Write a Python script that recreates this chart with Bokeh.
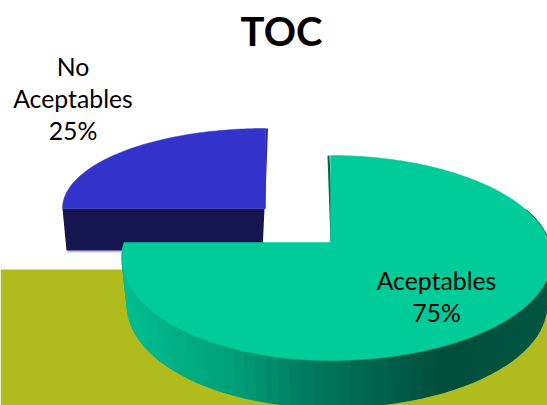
import math
from bokeh.plotting import figure
from bokeh.embed import file_html
from bokeh.resources import INLINE
from bokeh.core.properties import value

title = "TOC"
categories = ["No\nAceptables", "Aceptables"]
values = [25, 75]
top_colors = ["#3333CC", "#00CC99"]
font = "Lato"


def px(v):
    return f"{v:.1f}px"


def mix(a, b, t):
    return "#" + "".join(f"{round(x + (y - x) * t):02x}" for x, y in zip(a, b))


p = figure(width=547, height=405, x_range=(0, 547), y_range=(405, 0),
           output_backend="svg", toolbar_location=None, min_border=0)
p.axis.visible = False
p.grid.visible = False
p.outline_line_color = None
p.background_fill_color = "white"


def project(deg, cx, cy, left, right, up, down, r=1.0):
    """deg is clockwise from the top of the disc"""
    a = math.radians(deg)
    u, v = math.sin(a) * r, -math.cos(a) * r
    c = (up - down) / (up + down)
    s = 2 * up * down / (up + down)
    w = 1 + c * v
    return cx + (right if u > 0 else left) * u / w, cy + s * v / w


def arc(a0, a1, *geo, n=90):
    return [project(a0 + (a1 - a0) * i / n, *geo) for i in range(n + 1)]


total = sum(values)
sweep_blue = 360 * values[0] / total
sweep_teal = 360 * values[1] / total

# olive floor
p.quad(left=[0], right=[547], top=[269], bottom=[405],
       fill_color="#B0BC1E", line_color=None)

# --- No Aceptables slice (starts at the top, runs anticlockwise)
bgeo = (265, 208, 203, 203, 80, 80)
pts = arc(360 - sweep_blue, 360, *bgeo)
cx, cy = bgeo[0], bgeo[1]
depth = 42
# shadow
p.patch([66, 262, 262, 67], [cy + 30, cy + 30, cy + 44, cy + 44],
        fill_color="#C4C4D8", line_color=None)
# cut face at the front
p.patch([62, 264, 262, 66], [cy, cy, cy + depth, cy + depth],
        fill_color="#151550", line_color=None)
# thin cut face on the right
p.patch([265, 267.5, 264.5, 264], [128, 128, cy, cy], fill_color="#2A2AA0", line_color=None)
p.patch([q[0] for q in pts] + [cx], [q[1] for q in pts] + [cy],
        fill_color=top_colors[0], line_color=top_colors[0], line_width=0.5)

# --- Aceptables slice (clockwise from the top)
tgeo = (330, 242, 206, 219, 87, 118)
dep = 47
stops = [(122, (0, 190, 145)), (230, (0, 160, 120)), (300, (0, 125, 95)),
         (440, (0, 78, 60)), (547, (0, 85, 65))]


def side_colour(x):
    for (x0, c0), (x1, c1) in zip(stops, stops[1:]):
        if x <= x1:
            return mix(c0, c1, max(0, (x - x0) / (x1 - x0)))
    return mix(stops[-1][1], stops[-1][1], 0)


edge = arc(70, sweep_teal, *tgeo, n=70)
xs, ys, cols = [], [], []
for (x0, y0), (x1, y1) in zip(edge, edge[1:]):
    f = 0.975
    bx0 = tgeo[0] + (x0 - tgeo[0]) * f
    bx1 = tgeo[0] + (x1 - tgeo[0]) * f
    xs.append([x0, x1, bx1, bx0])
    ys.append([y0, y1, y1 + dep, y0 + dep])
    cols.append(side_colour((x0 + x1) / 2))
p.patches(xs, ys, fill_color=cols, line_color=cols, line_width=1.5)

# thin inner cut face next to the apex
p.patch([327, 329, 333, 330], [155, 155, 242, 242], fill_color="#00664D", line_color=None)

pts = arc(0, sweep_teal, *tgeo, n=200)
p.patch([q[0] for q in pts] + [tgeo[0]], [q[1] for q in pts] + [tgeo[1]],
        fill_color=top_colors[1], line_color=top_colors[1], line_width=0.5)

# --- texts
p.text([281], [30], text=[title], text_font=value(font), text_font_style="bold",
       text_font_size=px(40), text_align="center", text_baseline="middle", text_color="black")

lab_x = [72.5, 436]
lab_y = [97.5, 296]
for name, v, x, y in zip(categories, values, lab_x, lab_y):
    lines = name.split("\n") + [f"{v}%"]
    y0 = y - 16 * (len(lines) - 1)
    for i, line in enumerate(lines):
        p.text([x], [y0 + i * 32], text=[line], text_font=value(font),
               text_font_size=px(24.8), text_align="center", text_baseline="middle",
               text_color="black")

open("out.html", "w").write(file_html(p, INLINE))
